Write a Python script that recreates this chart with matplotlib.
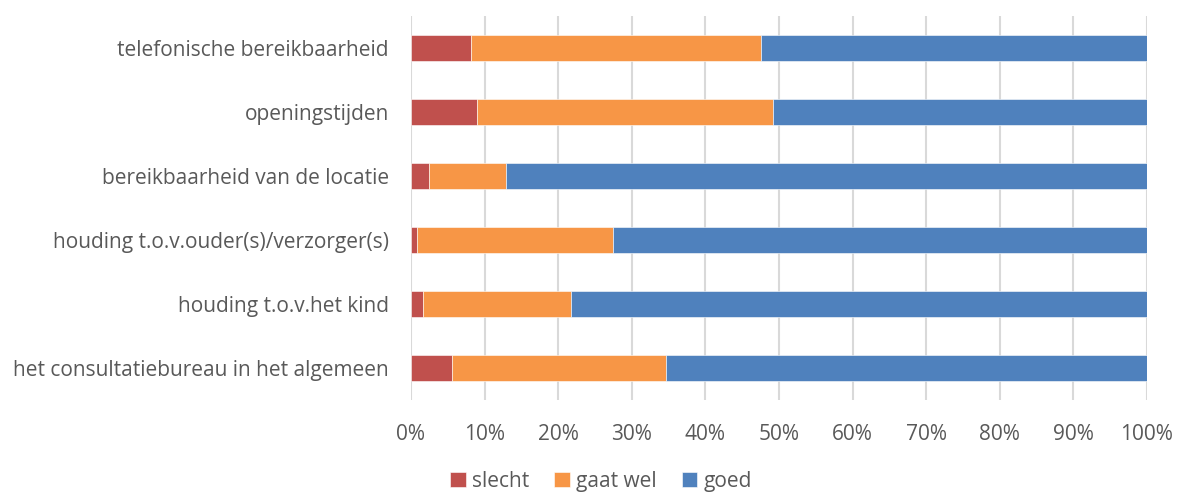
import matplotlib
matplotlib.use("Agg")
import matplotlib.pyplot as plt
import numpy as np

plt.rcParams['font.family'] = ['Open Sans', 'DejaVu Sans']

categories = [
    "telefonische bereikbaarheid",
    "openingstijden",
    "bereikbaarheid van de locatie",
    "houding t.o.v.ouder(s)/verzorger(s)",
    "houding t.o.v.het kind",
    "het consultatiebureau in het algemeen",
]
slecht = [8.2, 8.9, 2.4, 0.8, 1.6, 5.6]
gaat_wel = [39.3, 40.3, 10.5, 26.6, 20.2, 29.1]
goed = [52.5, 50.8, 87.1, 72.6, 78.2, 65.3]

series = [("slecht", slecht, "#C0504D"),
          ("gaat wel", gaat_wel, "#F79646"),
          ("goed", goed, "#4F81BD")]

text_color = "#595959"

fig = plt.figure(figsize=(11.83, 4.94), dpi=100)
ax = fig.add_axes([411 / 1183, 1 - 400 / 494, (1147 - 411) / 1183, 384 / 494])

y = np.arange(len(categories))
left = np.zeros(len(categories))
for name, vals, color in series:
    ax.barh(y, vals, left=left, height=0.4, color=color, label=name,
            edgecolor="white", linewidth=0.4, zorder=3)
    left += np.array(vals)

ax.set_xlim(0, 100)
ax.set_ylim(len(categories) - 0.5, -0.5)
ax.set_xticks(np.arange(0, 101, 10))
ax.set_xticklabels([f"{v}%" for v in range(0, 101, 10)])
ax.set_yticks(y)
ax.set_yticklabels(categories)
ax.tick_params(axis="both", length=0, labelsize=15, colors=text_color)
ax.tick_params(axis="y", pad=16)
ax.tick_params(axis="x", pad=17)
ax.grid(axis="x", color="#D9D9D9", linewidth=1.5, zorder=0)
for s in ax.spines.values():
    s.set_visible(False)

fig.legend(loc="center", bbox_to_anchor=(601 / 1183, 1 - 481 / 494), ncol=3,
           frameon=False, fontsize=15, labelcolor=text_color,
           handlelength=0.75, handleheight=0.75, handletextpad=0.3,
           columnspacing=1.2)

fig.savefig("out.png", dpi=100)
